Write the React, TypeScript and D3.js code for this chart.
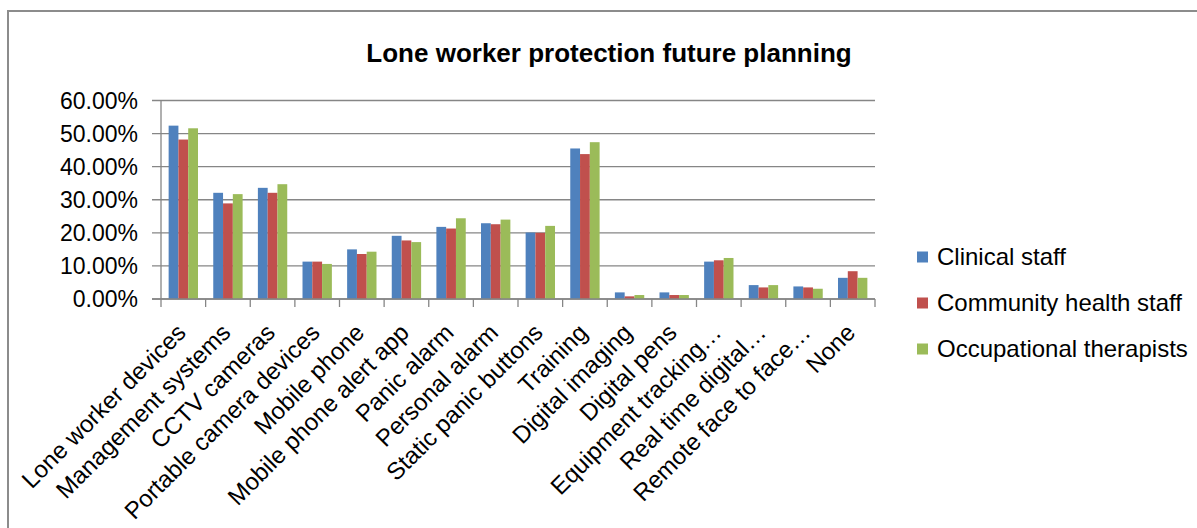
import React from "react";
import * as d3 from "d3";

const categories = [
  "Lone worker devices",
  "Management systems",
  "CCTV cameras",
  "Portable camera devices",
  "Mobile phone",
  "Mobile phone alert app",
  "Panic alarm",
  "Personal alarm",
  "Static panic buttons",
  "Training",
  "Digital imaging",
  "Digital pens",
  "Equipment tracking…",
  "Real time digital…",
  "Remote face to face…",
  "None",
];

const seriesNames = ["Clinical staff", "Community health staff", "Occupational therapists"];
const seriesColors = ["#4F81BD", "#C0504D", "#9BBB59"];

const clinicalStaff = [52.4, 32.1, 33.6, 11.3, 15.0, 19.1, 21.8, 22.9, 20.1, 45.5, 2.0, 2.0, 11.3, 4.2, 3.8, 6.4];
const communityHealthStaff = [48.2, 28.9, 32.1, 11.3, 13.6, 17.7, 21.3, 22.6, 20.0, 43.8, 0.8, 1.2, 11.7, 3.5, 3.5, 8.4];
const occupationalTherapists = [51.6, 31.7, 34.7, 10.6, 14.3, 17.2, 24.4, 24.0, 22.1, 47.4, 1.2, 1.2, 12.4, 4.2, 3.1, 6.4];

const yTicks = [0, 10, 20, 30, 40, 50, 60];

const seriesValues = [clinicalStaff, communityHealthStaff, occupationalTherapists];

export default function App() {
  const W = 1197;
  const H = 528;
  const left = 161;
  const right = 875;
  const top = 100.5;
  const bottom = 299;
  const font = "'Liberation Sans', Arial, sans-serif";

  const x = d3.scaleBand<string>().domain(categories).range([left, right]).padding(0);
  const xs = d3
    .scaleBand<number>()
    .domain([0, 1, 2])
    .range([0, x.bandwidth()])
    .paddingInner(0)
    .paddingOuter(0.78);
  const y = d3.scaleLinear().domain([0, 60]).range([bottom, top]);

  const fmt = (v: number) => v.toFixed(2) + "%";
  const grid = "#868686";

  return (
    <svg
      width={W}
      height={H}
      style={{ position: "absolute", left: 0, top: 0, background: "#fff" }}
      fontFamily={font}
    >
      <rect x={0} y={0} width={W} height={H} fill="#fff" />
      {/* chart area border */}
      <rect x={8} y={11} width={W + 20} height={H + 20} fill="none" stroke="#8c8c8c" strokeWidth={2} />

      <text x={609} y={62} textAnchor="middle" fontSize={26} fontWeight="bold" fill="#000">
        Lone worker protection future planning
      </text>

      {/* gridlines & y ticks */}
      {yTicks.map((t) => (
        <g key={t}>
          <line x1={152} x2={right} y1={y(t)} y2={y(t)} stroke={grid} strokeWidth={1.3} />
          <text x={138} y={y(t) + 8} textAnchor="end" fontSize={23} fill="#000">
            {fmt(t)}
          </text>
        </g>
      ))}
      {/* y axis */}
      <line x1={left} x2={left} y1={top} y2={bottom} stroke={grid} strokeWidth={1.3} />

      {/* x category ticks */}
      {categories.map((c, i) => (
        <line
          key={"t" + i}
          x1={x(c)!}
          x2={x(c)!}
          y1={bottom}
          y2={bottom + 8}
          stroke={grid}
          strokeWidth={1.3}
        />
      ))}
      <line x1={right} x2={right} y1={bottom} y2={bottom + 8} stroke={grid} strokeWidth={1.3} />

      {/* bars */}
      {categories.map((c, i) => (
        <g key={"b" + i}>
          {seriesValues.map((vals, s) => (
            <rect
              key={s}
              x={x(c)! + xs(s)!}
              y={y(vals[i])}
              width={xs.bandwidth()}
              height={bottom - y(vals[i])}
              fill={seriesColors[s]}
            />
          ))}
        </g>
      ))}

      {/* x axis line */}
      <line x1={152} x2={right} y1={bottom} y2={bottom} stroke={grid} strokeWidth={1.3} />

      {/* x labels */}
      {categories.map((c, i) => {
        const cx = x(c)! + x.bandwidth() / 2 + 4;
        const cy = 334;
        return (
          <text
            key={"l" + i}
            x={cx}
            y={cy}
            transform={`rotate(-45 ${cx} ${cy})`}
            textAnchor="end"
            fontSize={24}
            fill="#000"
          >
            {c}
          </text>
        );
      })}

      {/* legend */}
      {seriesNames.map((n, s) => {
        const cy = 257 + s * 46;
        return (
          <g key={"lg" + s}>
            <rect x={917} y={cy - 5.5} width={11} height={11} fill={seriesColors[s]} />
            <text x={937} y={cy + 8} fontSize={24} fill="#000">
              {n}
            </text>
          </g>
        );
      })}
    </svg>
  );
}
